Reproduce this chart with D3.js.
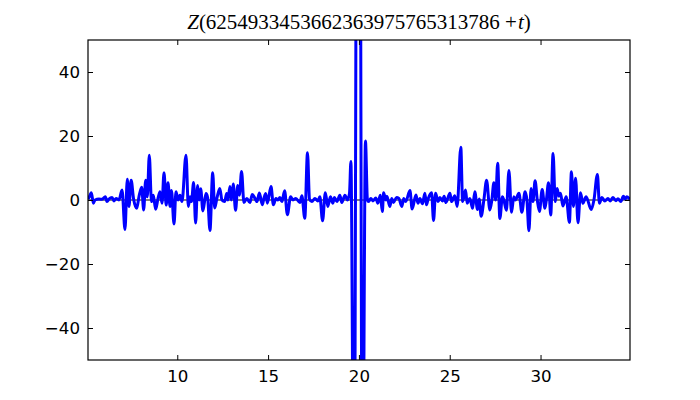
<!DOCTYPE html>
<html>
<head>
<meta charset="utf-8">
<script src="https://cdn.jsdelivr.net/npm/d3@7"></script>
<style>
  body { margin: 0; background: #fff; }
  svg { display: block; }
</style>
</head>
<body>
<div id="chart"></div>
<script>
const TITLE_NUMBER = "6254933453662363975765313786"

// local peaks and troughs of Z
const tValues = [
  5.09, 5.20, 5.27, 5.38, 5.47, 5.69, 5.86, 6.04, 6.13, 6.24, 6.41, 6.52, 6.63, 6.79,
  6.96, 7.12, 7.25, 7.34, 7.46, 7.59, 7.77, 7.89, 8.04, 8.15, 8.26, 8.35, 8.46, 8.58,
  8.68, 8.81, 8.94, 9.05, 9.16, 9.27, 9.39, 9.49, 9.60, 9.68, 9.82, 9.93, 10.04, 10.15,
  10.26, 10.48, 10.61, 10.70, 10.78, 10.90, 11.01, 11.12, 11.21, 11.29, 11.41, 11.58,
  11.67, 11.80, 11.95, 12.06, 12.18, 12.34, 12.46, 12.61, 12.72, 12.79, 12.90, 12.98,
  13.08, 13.21, 13.33, 13.42, 13.54, 13.67, 13.83, 14.00, 14.13, 14.28, 14.39, 14.52,
  14.68, 14.77, 14.87, 14.96, 15.16, 15.29, 15.43, 15.54, 15.65, 15.76, 15.91, 16.06,
  16.24, 16.37, 16.53, 16.75, 16.86, 17.02, 17.17, 17.28, 17.41, 17.58, 17.74, 17.85,
  18.00, 18.15, 18.29, 18.43, 18.57, 18.65, 18.79, 18.95, 19.06, 19.23, 19.37, 19.48,
  19.56, 19.73, 19.97, 20.20, 20.36, 20.47, 20.53, 20.66, 20.77, 20.93, 21.04, 21.18,
  21.29, 21.36, 21.48, 21.54, 21.70, 21.81, 21.90, 22.07, 22.20, 22.36, 22.47, 22.58,
  22.81, 22.93, 23.14, 23.25, 23.36, 23.50, 23.63, 23.72, 23.82, 24.00, 24.11, 24.22,
  24.36, 24.46, 24.60, 24.69, 24.79, 25.01, 25.10, 25.28, 25.41, 25.61, 25.71, 25.87,
  25.96, 26.11, 26.26, 26.38, 26.53, 26.62, 26.73, 26.88, 27.03, 27.21, 27.32, 27.43,
  27.53, 27.64, 27.76, 27.90, 27.98, 28.12, 28.26, 28.40, 28.53, 28.61, 28.81, 28.97,
  29.15, 29.25, 29.36, 29.48, 29.58, 29.70, 29.82, 29.94, 30.09, 30.24, 30.32, 30.44,
  30.56, 30.69, 30.81, 30.91, 31.01, 31.10, 31.23, 31.41, 31.59, 31.70, 31.81, 31.93,
  32.06, 32.20, 32.33, 32.51, 32.79, 32.94, 33.13, 33.24, 33.38, 33.54, 33.71, 33.84,
  33.98, 34.15, 34.26, 34.42, 34.56, 34.66, 34.75, 34.92
]
const zValues = [
  0.3, 1.5, 2.3, -1.0, 0.0, 0.3, 0.2, 1.0, -0.5, 0.3, 0.8, -0.3, 0.5, 0.0,
  3.1, -9.2, 6.5, -2.0, 6.2, 0.5, -2.6, 1.0, 4.0, -3.1, 6.2, 1.0, 14.0, -0.5,
  1.5, -2.9, 0.5, 2.6, -1.0, 8.5, -1.6, 5.4, -2.0, 3.0, -7.5, 2.6, 0.0, 1.5,
  -0.5, 14.0, -2.0, 1.0, -0.5, 5.5, -7.2, 4.5, 0.0, 3.5, -3.4, 2.0,
  0.8, -9.5, 8.5, -2.5, 0.5, 3.6, 0.0, -0.5, 2.0, 0.0, 4.2, 0.0,
  5.0, -3.2, 4.5, 1.5, 8.9, -0.8, 0.5, -0.8, 1.7, 0.5, -0.5, 2.2,
  -1.5, 0.5, 2.0, -1.0, 4.2, -1.5, 0.5, 0.0, 0.8, -0.5, 2.9, -4.6,
  1.0, 0.0, 0.5, -0.8, 1.3, -5.7, 14.8, 0.3, -0.5, 0.5, -0.3, 1.0,
  -6.5, 2.3, -2.0, 1.0, -1.0, 0.8, -0.5, 1.5, -0.8, 1.5, 0.0, 2.0,
  12.0, -110, 300, -110, 18.4, 0.0, -0.5, 0.5, -0.3, 0.6, -1.0, 1.5,
  -3.6, 2.3, 0.0, 1.2, -2.0, 0.5, -0.8, 0.8, 0.5, -2.0, 0.5, -0.5,
  3.0, -2.8, 1.6, -1.0, 0.5, -1.2, 2.1, -1.5, 0.5, 2.3, -6.4, 2.1,
  -0.5, 0.8, -0.3, 1.2, -0.8, 2.1, -0.5, 1.3, -2.0, 16.5, -0.5, 3.1,
  -1.0, 0.5, -2.6, 2.6, -3.0, 0.3, -5.1, 0.0, 6.2, -3.1, 0.0, 5.4,
  0.0, 11.5, -5.8, 1.0, 0.0, -3.2, 9.2, -3.8, 1.0, 0.0, 2.1, -3.8,
  2.6, 0.0, -9.6, 3.6, -0.5, 6.0, 0.0, -3.6, 3.3, -2.6, 0.0, 5.4,
  -4.7, 14.5, -0.5, 3.6, 1.2, 2.1, -1.9, 1.0, -7.0, 8.8, -2.0, 6.8,
  -7.1, 2.3, -1.0, 1.0, -3.0, 0.0, 8.0, -1.0, 0.8, -0.3, 0.5, -0.3,
  0.8, -0.2, 0.4, -0.5, 1.2, 0.3, 1.0, 0.2
]
const xTicks = [10, 15, 20, 25, 30]
const yTicks = [-40, -20, 0, 20, 40]
const xDomain = [5.085, 34.925]
const yDomain = [-50, 50]

const MARGIN = { TOP: 40, BOTTOM: 40, LEFT: 88, RIGHT: 70 }
const WIDTH = 700 - MARGIN.LEFT - MARGIN.RIGHT
const HEIGHT = 400 - MARGIN.TOP - MARGIN.BOTTOM
const TICK = 5

const data = tValues.map((t, i) => ({ t: t, z: zValues[i] }))

const svg = d3.select("#chart")
  .append("svg")
    .attr("width", 700)
    .attr("height", 400)

svg.append("defs").append("clipPath")
    .attr("id", "plot-clip")
  .append("rect")
    .attr("width", WIDTH)
    .attr("height", HEIGHT)

const g = svg.append("g")
  .attr("transform", `translate(${MARGIN.LEFT}, ${MARGIN.TOP})`)

const x = d3.scaleLinear().domain(xDomain).range([0, WIDTH])
const y = d3.scaleLinear().domain(yDomain).range([HEIGHT, 0])

// zero line sits under the curve
g.append("line")
  .attr("x1", 0)
  .attr("x2", WIDTH)
  .attr("y1", y(0))
  .attr("y2", y(0))
  .attr("stroke", "#000")
  .attr("stroke-width", 1)

const line = d3.line()
  .x(d => x(d.t))
  .y(d => y(d.z))
  .curve(d3.curveMonotoneX)

g.append("path")
  .datum(data)
  .attr("clip-path", "url(#plot-clip)")
  .attr("fill", "none")
  .attr("stroke", "#0000ff")
  .attr("stroke-width", 3)
  .attr("stroke-linejoin", "round")
  .attr("d", line)

// matplotlib classic: ticks point inward on all four sides
const styleAxis = sel => {
  sel.select(".domain").remove()
  sel.selectAll(".tick line").attr("stroke", "#000")
  sel.selectAll(".tick text")
    .attr("fill", "#000")
    .attr("font-family", "DejaVu Sans")
    .attr("font-size", "16.67px")
}

g.append("g")
  .attr("transform", `translate(0, ${HEIGHT})`)
  .call(d3.axisBottom(x).tickValues(xTicks).tickSizeInner(-TICK).tickSizeOuter(0).tickPadding(10))
  .call(styleAxis)

g.append("g")
  .call(d3.axisTop(x).tickValues(xTicks).tickSizeInner(-TICK).tickSizeOuter(0).tickFormat(""))
  .call(styleAxis)

g.append("g")
  .call(d3.axisLeft(y).tickValues(yTicks).tickSizeInner(-TICK).tickSizeOuter(0).tickPadding(8)
    .tickFormat(d => d < 0 ? "\u2212" + Math.abs(d) : d))
  .call(styleAxis)

g.append("g")
  .attr("transform", `translate(${WIDTH}, 0)`)
  .call(d3.axisRight(y).tickValues(yTicks).tickSizeInner(-TICK).tickSizeOuter(0).tickFormat(""))
  .call(styleAxis)

g.append("rect")
  .attr("width", WIDTH)
  .attr("height", HEIGHT)
  .attr("fill", "none")
  .attr("stroke", "#000")
  .attr("stroke-width", 1.2)

const title = svg.append("text")
  .attr("x", MARGIN.LEFT + WIDTH / 2)
  .attr("y", 29)
  .attr("text-anchor", "middle")
  .attr("font-family", "Liberation Serif")
  .attr("font-size", "21px")
  .attr("fill", "#000")

title.append("tspan").attr("font-style", "italic").text("Z")
title.append("tspan").text("(" + TITLE_NUMBER + " +")
title.append("tspan").attr("font-style", "italic").attr("dx", 1).text("t")
title.append("tspan").text(")")
</script>
</body>
</html>
